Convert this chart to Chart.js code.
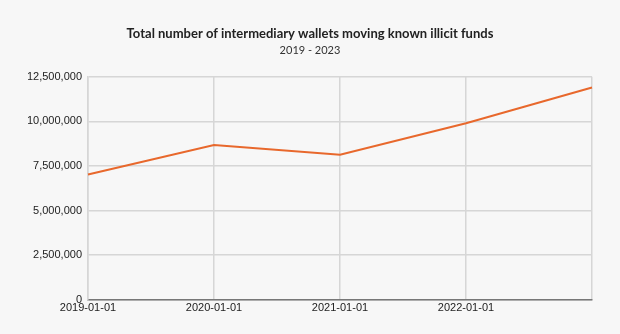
<!DOCTYPE html>
<html>
<head>
<meta charset="utf-8">
<script src="https://cdn.jsdelivr.net/npm/chart.js@4"></script>
<style>
  html, body { margin: 0; padding: 0; background: #f7f7f7; }
  #wrap { width: 620px; height: 334px; }
</style>
</head>
<body>
<div id="wrap"><canvas id="walletChart"></canvas></div>
<script>
// data
const dates = ['2019-01-01', '2020-01-01', '2021-01-01', '2022-01-01', '2023-01-01'];
const wallets = [7020000, 8680000, 8130000, 9900000, 11900000];
const shownDates = ['2019-01-01', '2020-01-01', '2021-01-01', '2022-01-01'];

const ctx = document.getElementById('walletChart').getContext('2d');

new Chart(ctx, {
  type: 'line',
  data: {
    labels: dates,
    datasets: [{
      label: 'Intermediary wallets',
      data: wallets,
      borderColor: '#e8682c',
      borderWidth: 2,
      pointRadius: 0,
      tension: 0,
      fill: false
    }]
  },
  options: {
    responsive: true,
    maintainAspectRatio: false,
    animation: false,
    layout: { padding: { left: 28, right: 28, top: 12, bottom: 17 } },
    plugins: {
      legend: { display: false },
      tooltip: { enabled: false },
      title: {
        display: true,
        text: 'Total number of intermediary wallets moving known illicit funds',
        color: '#222',
        font: { family: 'Lato', size: 13, weight: 'bold' },
        padding: { top: 14, bottom: 2 }
      },
      subtitle: {
        display: true,
        text: '2019 - 2023',
        color: '#333',
        font: { family: 'Lato', size: 11 },
        padding: { bottom: 20 }
      }
    },
    scales: {
      x: {
        offset: false,
        grid: { color: '#d6d6d6', lineWidth: 1.5, drawTicks: false },
        border: { color: '#777', width: 1.5 },
        ticks: {
          color: '#222',
          font: { family: 'Liberation Sans', size: 11 },
          maxRotation: 0,
          autoSkip: false,
          padding: 2,
          callback: (v, i) => shownDates.includes(dates[i]) ? dates[i] : ''
        }
      },
      y: {
        min: 0,
        max: 12500000,
        afterFit: scale => { scale.width = 60; },
        grid: { color: '#d6d6d6', lineWidth: 1.5, drawTicks: false },
        border: { color: '#d6d6d6', width: 1.5 },
        ticks: {
          stepSize: 2500000,
          color: '#222',
          font: { family: 'Liberation Sans', size: 11 },
          padding: 6,
          callback: v => v.toLocaleString('en-US')
        }
      }
    }
  }
});
</script>
</body>
</html>
